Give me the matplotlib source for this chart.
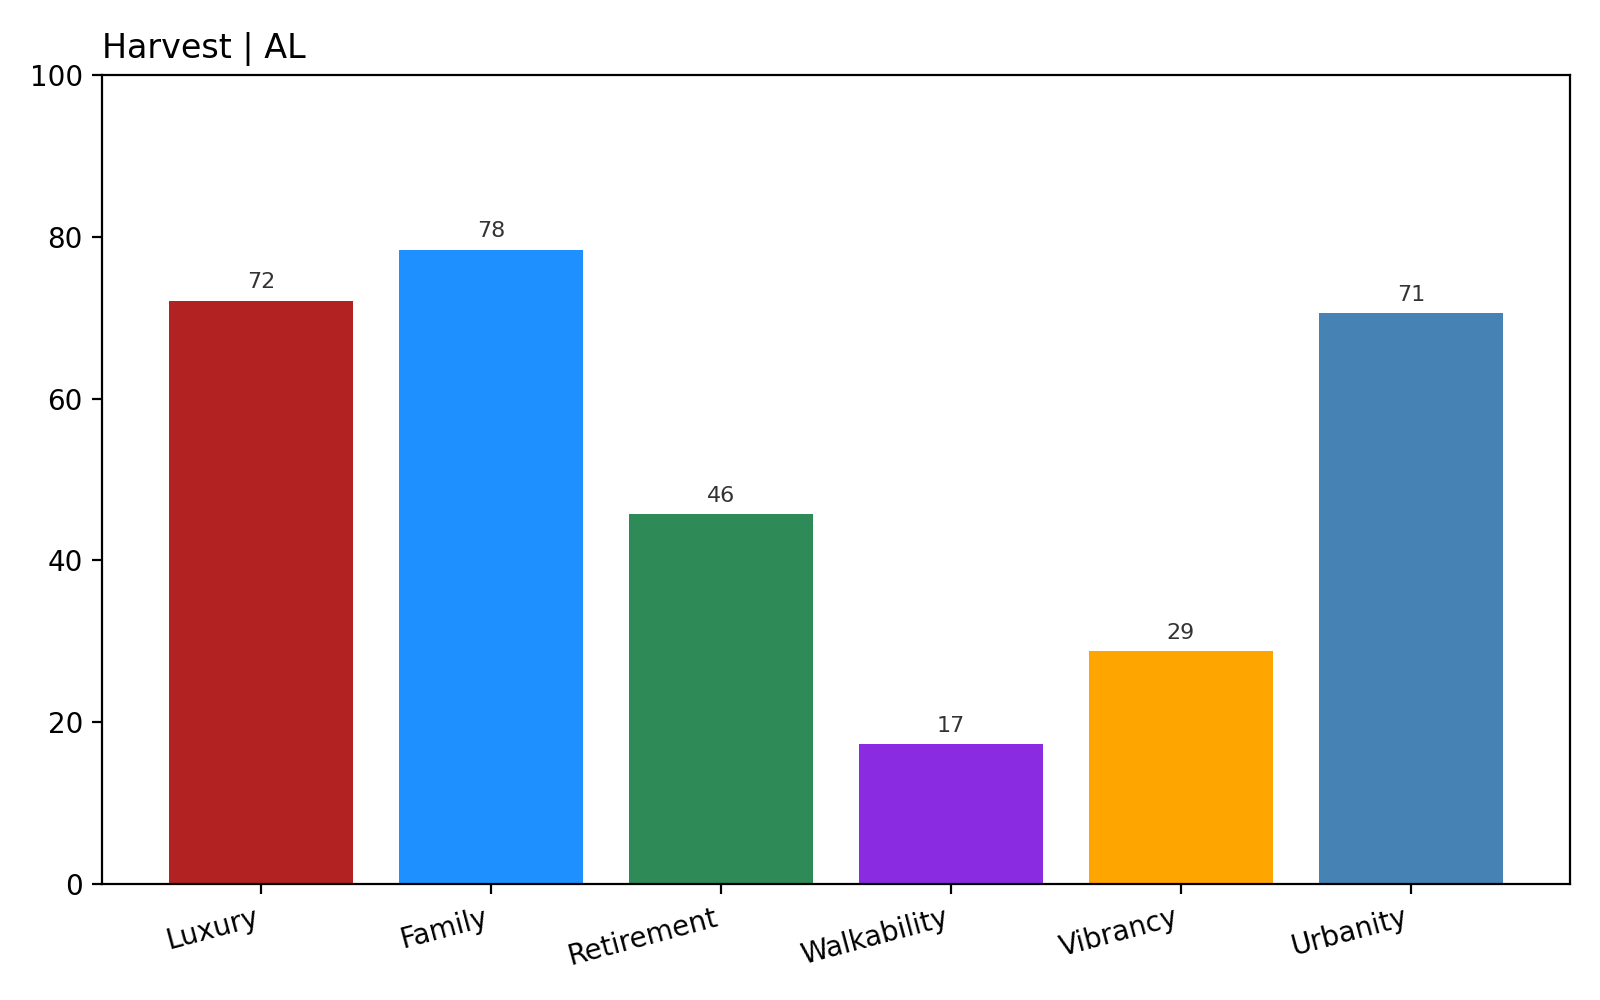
import matplotlib.pyplot as plt

# data
categories = ["Luxury", "Family", "Retirement", "Walkability", "Vibrancy", "Urbanity"]
scores = [72.1, 78.4, 45.7, 17.3, 28.8, 70.6]
colors = ["firebrick", "dodgerblue", "seagreen", "blueviolet", "orange", "steelblue"]

fig, ax = plt.subplots(figsize=(8, 5), dpi=200)
bars = ax.bar(categories, scores, color=colors)
ax.bar_label(bars, labels=[f"{v:.0f}" for v in scores], padding=3, fontsize=8, color="#333333")

ax.set_ylim(0, 100)
ax.set_title("Harvest | AL", loc="left")
plt.xticks(rotation=15, ha="right")

plt.subplots_adjust(left=0.064, right=0.981, top=0.925, bottom=0.116)
plt.savefig("out.png")
